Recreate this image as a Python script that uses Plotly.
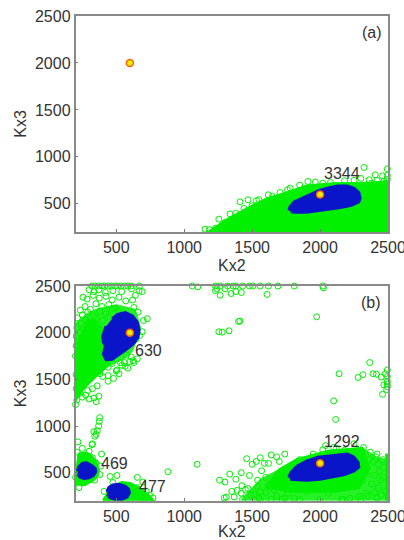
import plotly.graph_objects as go

GREEN = "#00f000"
LIGHT = "#26f126"
BLUE = "#0a14c8"

# Reference positions
ref_x = [600, 2000]
ref_y = [2000, 600]

# Panel (a): solid regions, outlines
a_green_x = [1170, 1300, 1450, 1600, 1750, 1900, 2100, 2300, 2500, 2500, 1170]
a_green_y = [200, 330, 450, 560, 625, 700, 725, 725, 745, 200, 200]
a_blue_x = [1770, 1780, 1810, 1860, 1920, 1990, 2060, 2130, 2200, 2250, 2285, 2295, 2285, 2230, 2150, 2060, 1980, 1900, 1820, 1785]
a_blue_y = [430, 470, 520, 555, 590, 640, 670, 690, 690, 665, 620, 560, 520, 485, 460, 440, 425, 410, 410, 415]
# Panel (a): circles visible along the rim
a_pts_x = [1153, 1185, 1255, 1337, 1411, 1470, 1532, 1550, 1619, 1705, 1780, 1760, 1911, 1965, 2020, 2076,
           2324, 2406, 2460, 2495, 2495, 2361, 2300, 2420, 2470, 2250, 2180, 1850, 1650, 1500, 1440, 1380,
           2490, 2450, 2380, 1300, 1230, 2495, 2480, 2440]
a_pts_y = [230, 225, 337, 393, 521, 543, 535, 545, 596, 620, 667, 650, 738, 731, 720, 727,
           887, 809, 798, 873, 802, 756, 770, 750, 740, 750, 745, 700, 580, 480, 450, 400,
           700, 690, 720, 300, 240, 760, 720, 660]

# Panel (b): speckled regions under the circles
b_tl_light_x = [200, 257, 356, 440, 560, 620, 680, 640, 500, 350, 280, 200]
b_tl_light_y = [1263, 1387, 1530, 1640, 1720, 1800, 2050, 2250, 2300, 2250, 2200, 2100]
b_lr_light_x = [1420, 1560, 1680, 1830, 2060, 2310, 2420, 2500, 2500, 1420]
b_lr_light_y = [215, 430, 520, 620, 720, 770, 660, 640, 205, 205]
# Panel (b): solid regions
b_core_tl_x = [200, 257, 356, 440, 500, 430, 360, 290, 230, 200]
b_core_tl_y = [1263, 1387, 1530, 1640, 1800, 2000, 2120, 2150, 1950, 1800]
b_g469_x = [200, 225, 270, 310, 345, 369, 360, 330, 270, 225, 200]
b_g469_y = [400, 700, 710, 690, 620, 530, 470, 420, 375, 375, 385]
b_g477_x = [408, 440, 480, 542, 600, 660, 725, 770, 408]
b_g477_y = [205, 280, 350, 395, 385, 340, 270, 205, 205]
b_g1292_x = [1600, 1700, 1830, 2060, 2310, 2360, 2285, 2110, 1735]
b_g1292_y = [330, 530, 640, 730, 760, 550, 340, 300, 300]
b_strip_x = [2480, 2500, 2500, 2480]
b_strip_y = [205, 205, 700, 700]
b_blue_tl_x = [470, 510, 567, 620, 655, 668, 660, 625, 567, 520, 470, 425, 405, 420, 405, 400, 425]
b_blue_tl_y = [2150, 2195, 2215, 2180, 2110, 2026, 1950, 1880, 1813, 1770, 1715, 1710, 1770, 1860, 1900, 1960, 2070]
b_blue_469_x = [213, 225, 250, 280, 319, 345, 349, 332, 300, 265, 235, 215]
b_blue_469_y = [518, 565, 600, 605, 578, 545, 510, 472, 445, 438, 450, 480]
b_blue_477_x = [431, 445, 475, 520, 567, 590, 597, 580, 545, 490, 455, 435]
b_blue_477_y = [294, 340, 368, 376, 355, 325, 285, 240, 215, 215, 230, 265]
b_blue_1292_x = [1770, 1785, 1830, 1900, 1985, 2060, 2130, 2200, 2245, 2280, 2285, 2250, 2180, 2100, 2000, 1900, 1820, 1780]
b_blue_1292_y = [450, 500, 570, 625, 665, 680, 690, 700, 670, 610, 560, 520, 480, 455, 430, 420, 422, 430]

# Panel (b): individual circles, top-left cluster
b_tl_x = [320, 345, 370, 395, 415, 440, 465, 490, 510, 535, 560, 585, 610, 670, 300, 335, 372, 420, 475, 540, 612, 690, 640, 668,
          255, 285, 330, 375, 425, 470, 520, 570, 620, 235, 270, 310, 350, 395, 445, 490, 215, 250, 290, 335, 380, 425, 470, 515,
          210, 240, 275, 315, 355, 400, 445, 630, 660, 700, 728, 690, 672, 645, 205, 230, 262, 300, 345, 392, 205, 225, 250, 285,
          320, 360, 200, 218, 240, 270, 300, 340, 385, 440, 500, 540, 585, 625, 655, 560, 520, 480, 440, 400, 360, 325, 300, 275,
          250, 230, 210, 200, 205, 335, 372, 352, 290, 380, 440, 470, 505, 530, 565, 600, 630, 610, 575, 205, 215, 225, 240]
b_tl_y = [2500, 2500, 2500, 2500, 2500, 2500, 2500, 2500, 2500, 2500, 2500, 2500, 2500, 2500, 2460, 2440, 2460, 2430, 2450, 2440, 2470, 2440, 2400, 2450,
          2380, 2360, 2400, 2370, 2390, 2350, 2380, 2340, 2350, 2240, 2280, 2250, 2310, 2280, 2300, 2260, 2160, 2190, 2220, 2180, 2230, 2200, 2250, 2230,
          2050, 2100, 2140, 2110, 2160, 2130, 2170, 2270, 2220, 2130, 2150, 2010, 1970, 1930, 1960, 2000, 2040, 2010, 1990, 2030, 1860, 1900, 1940, 1890,
          1950, 1900, 1750, 1800, 1840, 1800, 1760, 1720, 1660, 1630, 1590, 1650, 1620, 1700, 1720, 1680, 1560, 1510, 1480, 1530, 1430, 1400, 1290, 1330,
          1310, 1350, 1280, 1230, 1400, 1300, 1320, 1260, 1380, 1560, 1540, 1670, 1600, 1680, 1640, 1690, 1680, 1740, 1760, 1550, 1500, 1460, 1420]
# Panel (b): circles between and around the lower-left clusters
b_ll_x = [378, 375, 370, 360, 352, 342, 335, 325, 322, 218, 212, 250, 275, 300, 325, 392, 242, 270, 340, 380, 695, 880, 1095, 655, 505, 455,
          200, 225, 260, 300, 350, 385, 345, 655, 720, 745, 770, 700, 620, 560, 440, 425, 475, 410]
b_ll_y = [1090, 1050, 1000, 950, 910, 890, 940, 810, 800, 830, 720, 760, 690, 730, 660, 700, 660, 400, 420, 480, 400, 510, 590, 450, 470, 460,
          450, 340, 390, 440, 600, 570, 610, 340, 300, 260, 230, 220, 240, 215, 220, 210, 395, 300]
# Panel (b): sparse circles across the upper middle and right
b_far_x = [1060, 1100, 1230, 1265, 1320, 1360, 1380, 1430, 1480, 1505, 1560, 1620, 1690, 1810, 2020, 2025, 1240, 1300, 1380, 1420, 1610, 1230, 1265, 1345,
           1400, 1410, 1975, 1255, 1280, 1330, 2140, 2365, 2390, 2415, 2315, 2280, 2100, 2115, 2450, 2480, 2495, 2495, 2495, 2495, 2495, 2470, 2460, 2490]
b_far_y = [2500, 2490, 2500, 2500, 2500, 2500, 2500, 2500, 2500, 2500, 2500, 2500, 2500, 2500, 2500, 2480, 2470, 2470, 2440, 2430, 2410, 2450, 2400, 2420,
           2120, 2125, 2170, 2010, 2005, 2020, 1560, 1680, 1560, 1555, 1550, 1520, 1270, 1070, 1525, 1560, 1600, 1530, 1480, 1450, 1420, 1440, 1340, 1390]
# Panel (b): circles around the lower-right cluster
b_lr_x = [1368, 1420, 1450, 1490, 1560, 1620, 1660, 1680, 1740, 1810, 1310, 1295, 1350, 1390, 1425, 1470, 1515, 1550, 1300, 1380, 1260, 1335, 1420, 1480, 1540, 1600,
          1650, 1500, 1570, 1620, 1700, 1780, 1850, 1950, 2020, 2100, 2180, 2250, 2320, 2370, 2420, 2460, 2390, 2430, 2470, 2340, 2400, 2450, 2380, 2430,
          2480, 2340, 2290, 2220, 2160, 1430, 1560, 1640, 1720, 1850, 2000, 2170, 2300, 2420, 2450, 1540, 1600, 1680, 1780, 1900, 1990, 2060, 1680, 1560, 1640, 1590,
          2040, 2120, 2240, 2310, 2230, 1900, 1760, 2360, 2410, 2465, 1460, 1530, 1740, 2350, 2440, 2400]
b_lr_y = [240, 280, 320, 260, 300, 370, 320, 250, 230, 225, 240, 230, 300, 310, 360, 330, 270, 230, 400, 430, 420, 485, 500, 470, 420, 450,
          400, 590, 520, 600, 620, 560, 640, 700, 745, 770, 740, 810, 770, 720, 700, 640, 620, 590, 560, 500, 470, 420, 380, 340,
          300, 280, 245, 225, 215, 215, 210, 215, 215, 210, 215, 215, 210, 230, 260, 350, 290, 360, 330, 360, 330, 280, 670, 660, 690, 600,
          790, 760, 600, 410, 350, 300, 275, 640, 670, 450, 650, 620, 700, 250, 520, 290]

LABELS = ["(a)", "3344", "(b)", "630", "469", "477", "1292"]
label_x = [2381, 2163, 2372, 740, 485, 765, 2160]
label_y = [2328, 827, 2321, 1806, 600, 351, 834]
label_panel = ["a", "a", "b", "b", "b", "b", "b"]
TICKS = [500, 1000, 1500, 2000, 2500]

fig = go.Figure()


def region(xs, ys, color, axis, width=1):
    fig.add_trace(go.Scatter(x=xs, y=ys, mode="lines", fill="toself", fillcolor=color,
                             line=dict(color=color, width=width),
                             hoverinfo="skip", showlegend=False, xaxis="x" + axis, yaxis="y" + axis))


def circles(xs, ys, axis):
    fig.add_trace(go.Scatter(x=xs, y=ys, mode="markers", cliponaxis=False,
                             marker=dict(symbol="circle-open", size=6, color=GREEN, line=dict(width=1, color=GREEN)),
                             showlegend=False, xaxis="x" + axis, yaxis="y" + axis))


def refs(axis):
    fig.add_trace(go.Scatter(x=ref_x, y=ref_y, mode="markers",
                             marker=dict(size=7, color="#ffee00", line=dict(width=1.5, color="#f4640a")),
                             showlegend=False, xaxis="x" + axis, yaxis="y" + axis))


region(a_green_x, a_green_y, GREEN, "")
circles(a_pts_x, a_pts_y, "")
region(a_blue_x, a_blue_y, BLUE, "", 3)
refs("")

region(b_tl_light_x, b_tl_light_y, LIGHT, "2")
region(b_lr_light_x, b_lr_light_y, LIGHT, "2")
circles(b_tl_x, b_tl_y, "2")
circles(b_ll_x, b_ll_y, "2")
circles(b_far_x, b_far_y, "2")
circles(b_lr_x, b_lr_y, "2")
region(b_core_tl_x, b_core_tl_y, GREEN, "2")
region(b_g469_x, b_g469_y, GREEN, "2", 3)
region(b_g477_x, b_g477_y, GREEN, "2", 3)
region(b_g1292_x, b_g1292_y, GREEN, "2", 3)
region(b_strip_x, b_strip_y, GREEN, "2")
region(b_blue_tl_x, b_blue_tl_y, BLUE, "2", 3)
region(b_blue_469_x, b_blue_469_y, BLUE, "2", 3)
region(b_blue_477_x, b_blue_477_y, BLUE, "2", 3)
region(b_blue_1292_x, b_blue_1292_y, BLUE, "2", 3)
refs("2")

FONT = dict(family="Liberation Sans, Arial, sans-serif", size=16, color="#333333")
AX = dict(range=[200, 2500], tickvals=TICKS, ticks="inside", ticklen=3, tickcolor="#777777",
          showline=True, linecolor="#8a8a8a", linewidth=1.5, mirror=True, showgrid=False, zeroline=False,
          tickfont=FONT, automargin=False, ticklabeloverflow="allow")
W, H = 404, 540
dom_x = [75.5 / W, 388 / W]


def dom_y(top, bottom):
    return [1 - bottom / H, 1 - top / H]


fig.update_layout(
    width=W, height=H, margin=dict(l=0, r=0, t=0, b=0, autoexpand=False), paper_bgcolor="white", plot_bgcolor="white",
    showlegend=False,
    xaxis=dict(AX, domain=dom_x, anchor="y", title=dict(text="Kx2", font=FONT, standoff=5)),
    yaxis=dict(AX, domain=dom_y(16, 232), anchor="x", title=dict(text="Kx3", font=FONT, standoff=4)),
    xaxis2=dict(AX, domain=dom_x, anchor="y2", title=dict(text="Kx2", font=FONT, standoff=5)),
    yaxis2=dict(AX, domain=dom_y(286, 500.7), anchor="x2", title=dict(text="Kx3", font=FONT, standoff=4)),
)
for t, x, y, p in zip(LABELS, label_x, label_y, label_panel):
    s = "" if p == "a" else "2"
    fig.add_annotation(text=t, x=x, y=y, xref="x" + s, yref="y" + s, showarrow=False, font=FONT)

fig.write_html("out.html", config=dict(displayModeBar=False),
               post_script="document.body.style.margin='0';document.body.style.overflow='hidden';")
